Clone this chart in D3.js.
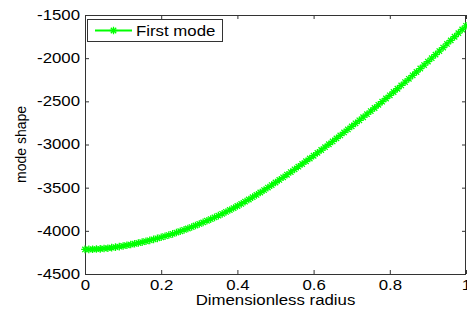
<!DOCTYPE html>
<html>
<head>
<meta charset="utf-8">
<script src="https://cdn.jsdelivr.net/npm/d3@7"></script>
<style>
  body { margin: 0; background: #fff; }
  svg { display: block; }
  text { font-family: "Liberation Sans", Arial, sans-serif; fill: #000; }
</style>
</head>
<body>
<div class="chart"></div>
<script>
// radius values (0 .. 1, step 0.01)
const radius = [
  0.00, 0.01, 0.02, 0.03, 0.04, 0.05, 0.06, 0.07, 0.08, 0.09,
  0.10, 0.11, 0.12, 0.13, 0.14, 0.15, 0.16, 0.17, 0.18, 0.19,
  0.20, 0.21, 0.22, 0.23, 0.24, 0.25, 0.26, 0.27, 0.28, 0.29,
  0.30, 0.31, 0.32, 0.33, 0.34, 0.35, 0.36, 0.37, 0.38, 0.39,
  0.40, 0.41, 0.42, 0.43, 0.44, 0.45, 0.46, 0.47, 0.48, 0.49,
  0.50, 0.51, 0.52, 0.53, 0.54, 0.55, 0.56, 0.57, 0.58, 0.59,
  0.60, 0.61, 0.62, 0.63, 0.64, 0.65, 0.66, 0.67, 0.68, 0.69,
  0.70, 0.71, 0.72, 0.73, 0.74, 0.75, 0.76, 0.77, 0.78, 0.79,
  0.80, 0.81, 0.82, 0.83, 0.84, 0.85, 0.86, 0.87, 0.88, 0.89,
  0.90, 0.91, 0.92, 0.93, 0.94, 0.95, 0.96, 0.97, 0.98, 0.99,
  1.00
]

// first mode shape
const firstMode = [
  -4215, -4215, -4213, -4211, -4209, -4205, -4201, -4195, -4189, -4183,
  -4175, -4167, -4159, -4150, -4141, -4131, -4121, -4110, -4099, -4087,
  -4075, -4062, -4049, -4035, -4020, -4005, -3989, -3973, -3956, -3938,
  -3920, -3902, -3883, -3864, -3844, -3824, -3803, -3781, -3759, -3736,
  -3712, -3688, -3662, -3637, -3610, -3584, -3556, -3528, -3499, -3470,
  -3440, -3410, -3380, -3350, -3319, -3288, -3257, -3226, -3194, -3162,
  -3130, -3097, -3064, -3031, -2997, -2964, -2929, -2895, -2860, -2825,
  -2790, -2755, -2720, -2684, -2649, -2613, -2577, -2540, -2504, -2467,
  -2430, -2392, -2354, -2316, -2277, -2239, -2199, -2160, -2120, -2080,
  -2040, -2000, -1959, -1918, -1877, -1835, -1794, -1752, -1710, -1668,
  -1625
]

const xTicks = [0, 0.2, 0.4, 0.6, 0.8, 1]
const yTicks = [-4500, -4000, -3500, -3000, -2500, -2000, -1500]
const seriesName = 'First mode'

const w = 467
const h = 309
const m = { left: 85, right: 466, top: 15, bottom: 274 }
const green = '#00ff00'
const axisColor = '#333'

const svg = d3.select('.chart')
  .append('svg')
    .attr('width', w)
    .attr('height', h)

const x = d3.scaleLinear().domain([0, 1]).range([m.left, m.right])
const y = d3.scaleLinear().domain([-4500, -1500]).range([m.bottom, m.top])

//plain hyphen minus like matlab
const fmt = d => String(d)

//axes with inward ticks on all four sides (matlab style)
function styleAxis (g) {
  g.select('.domain').remove()
  g.selectAll('line').attr('stroke', axisColor)
  g.selectAll('text').attr('font-size', '14px').attr('fill', '#000')
}

svg.append('g')
  .attr('transform', `translate(0,${m.bottom})`)
  .call(d3.axisBottom(x).tickValues(xTicks).tickSize(-4).tickPadding(6).tickFormat(fmt))
  .call(styleAxis)

svg.append('g')
  .attr('transform', `translate(0,${m.top})`)
  .call(d3.axisTop(x).tickValues(xTicks).tickSize(-4).tickFormat(''))
  .call(styleAxis)

svg.append('g')
  .attr('transform', `translate(${m.left},0)`)
  .call(d3.axisLeft(y).tickValues(yTicks).tickSize(-4).tickPadding(5).tickFormat(fmt))
  .call(styleAxis)

svg.append('g')
  .attr('transform', `translate(${m.right},0)`)
  .call(d3.axisRight(y).tickValues(yTicks).tickSize(-4).tickFormat(''))
  .call(styleAxis)

//box
svg.append('rect')
  .attr('x', m.left + 0.5)
  .attr('y', m.top + 0.5)
  .attr('width', m.right - m.left - 1)
  .attr('height', m.bottom - m.top)
  .attr('fill', 'none')
  .attr('stroke', axisColor)

//series
const pts = radius.map((r, i) => [r, firstMode[i]])
const line = d3.line().x(d => x(d[0])).y(d => y(d[1]))

const star = 'M-3.8,0H3.8M0,-3.8V3.8M-2.7,-2.7L2.7,2.7M-2.7,2.7L2.7,-2.7'

svg.append('path')
  .datum(pts)
  .attr('d', line)
  .attr('fill', 'none')
  .attr('stroke', green)
  .attr('stroke-width', 2)

svg.append('g')
  .selectAll('path')
  .data(pts)
  .enter().append('path')
    .attr('transform', d => `translate(${x(d[0])},${y(d[1])})`)
    .attr('d', star)
    .attr('fill', 'none')
    .attr('stroke', green)
    .attr('stroke-width', 1.3)

//legend
const lg = svg.append('g')
lg.append('rect')
  .attr('x', 87.5).attr('y', 19.5)
  .attr('width', 135).attr('height', 22)
  .attr('fill', '#fff')
  .attr('stroke', axisColor)
lg.append('line')
  .attr('x1', 95).attr('x2', 132)
  .attr('y1', 30.5).attr('y2', 30.5)
  .attr('stroke', green).attr('stroke-width', 2)
lg.append('path')
  .attr('transform', 'translate(113.5,30.5)')
  .attr('d', star)
  .attr('fill', 'none')
  .attr('stroke', green)
  .attr('stroke-width', 1.3)
lg.append('text')
  .attr('x', 136).attr('y', 35.5)
  .attr('font-size', '14px')
  .text(seriesName)

//axis titles
svg.append('text')
  .attr('x', (m.left + m.right) / 2)
  .attr('y', 305)
  .attr('text-anchor', 'middle')
  .attr('font-size', '14px')
  .text('Dimensionless radius')

svg.append('text')
  .attr('transform', `translate(26,${(m.top + m.bottom) / 2}) rotate(-90)`)
  .attr('text-anchor', 'middle')
  .attr('font-size', '14px')
  .text('mode shape')

//the reference is stretched sideways, widen horizontal texts
svg.selectAll('text').each(function () {
  if (this.getAttribute('transform')) return
  const len = this.getComputedTextLength()
  if (len > 0) {
    d3.select(this)
      .attr('textLength', len * 1.2)
      .attr('lengthAdjust', 'spacingAndGlyphs')
  }
})
</script>
</body>
</html>
